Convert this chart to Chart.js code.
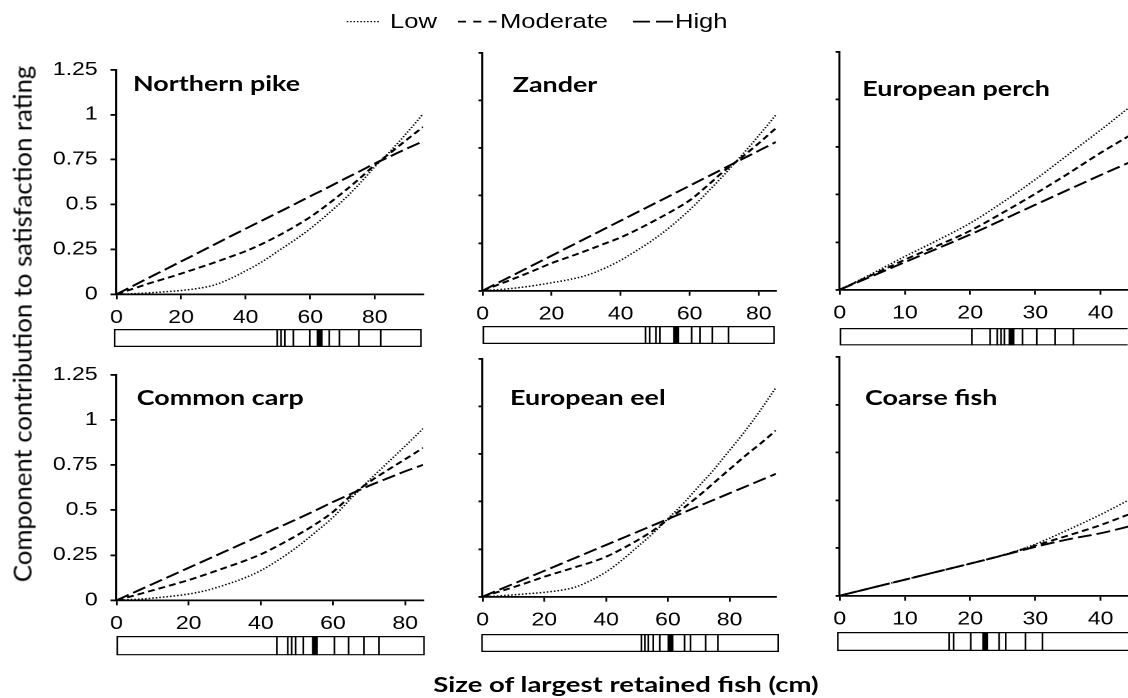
<!DOCTYPE html>
<html>
<head>
<meta charset="utf-8">
<script src="https://cdn.jsdelivr.net/npm/chart.js@4.4.1/dist/chart.umd.min.js"></script>
<style>
  html, body { margin: 0; padding: 0; background: #fff; width: 1128px; height: 698px; overflow: hidden; }
  #fig { position: absolute; left: 0; top: 0; width: 881.25px; height: 698px; transform: scaleX(1.28); transform-origin: 0 0; }
  #fig canvas { position: absolute; }
  .title { position: absolute; font-family: Lato, sans-serif; font-weight: 700; font-size: 21px; line-height: 25.2px; white-space: nowrap; color: #000; }
  .leg { position: absolute; top: 9.4px; font-family: "Liberation Sans", Arial, sans-serif; font-size: 20px; line-height: 24px; white-space: nowrap; color: #000; }
  #legendLines { position: absolute; left: 0; top: 0; overflow: visible; }
  #xtitle { position: absolute; left: 489px; top: 671.5px; transform: translateX(-50%); font-family: Lato, sans-serif; font-weight: 700; font-size: 21.5px; line-height: 25.8px; white-space: nowrap; color: #000; }
  #ytitle { position: absolute; left: 22px; top: 324px; transform: translate(-50%, -50%) rotate(-90deg); font-family: Lato, sans-serif; font-size: 25.7px; line-height: 30.8px; white-space: nowrap; color: #000; }
</style>
</head>
<body>
<div id="fig">
  <svg id="legendLines" width="882" height="40">
    <line x1="270.9" y1="21.6" x2="296.9" y2="21.6" stroke="#000" stroke-width="1.4" stroke-dasharray="1.2 1.45"/>
    <line x1="357.8" y1="21.6" x2="388" y2="21.6" stroke="#000" stroke-width="1.9" stroke-dasharray="6.25 5.7"/>
    <line x1="494.5" y1="21.6" x2="525.8" y2="21.6" stroke="#000" stroke-width="1.9" stroke-dasharray="13.3 4.7"/>
  </svg>
  <div class="leg" style="left:304.7px">Low</div>
  <div class="leg" style="left:390.6px">Moderate</div>
  <div class="leg" style="left:527.3px">High</div>
  <div id="xtitle">Size of largest retained fish (cm)</div>
</div>
<div id="ytitle">Component contribution to satisfaction rating</div>

<script>
// ---- data -------------------------------------------------------------
const yTicks = [0, 0.25, 0.5, 0.75, 1, 1.25];
const panelNames = ['Northern pike', 'Zander', 'European perch', 'Common carp', 'European eel', 'Coarse fish'];

// Northern pike
const pikeSize     = [0, 5, 10, 15, 20, 25, 30, 35, 40, 45, 50, 55, 60, 65, 70, 75, 80, 85, 90, 95];
const pikeLow      = [0, 0.003, 0.008, 0.014, 0.021, 0.032, 0.05, 0.085, 0.13, 0.18, 0.24, 0.30, 0.365, 0.44, 0.52, 0.61, 0.71, 0.80, 0.90, 1.005];
const pikeModerate = [0, 0.03, 0.06, 0.087, 0.115, 0.145, 0.175, 0.207, 0.24, 0.28, 0.325, 0.375, 0.43, 0.495, 0.565, 0.64, 0.72, 0.79, 0.862, 0.932];
const pikeHigh     = [0, 0.046, 0.092, 0.137, 0.183, 0.228, 0.274, 0.32, 0.365, 0.41, 0.455, 0.5, 0.546, 0.59, 0.637, 0.682, 0.728, 0.77, 0.812, 0.852];
const pikeTicks    = [0, 20, 40, 60, 80];
const pikeRug      = [50.4, 51.6, 52.8, 55.4, 60.5, 66.5, 69.6, 75.6, 82.4];
const pikeMedian   = 63.5;

// Zander
const zanderSize     = [0, 5, 10, 15, 20, 25, 30, 35, 40, 45, 50, 55, 60, 65, 70, 75, 80, 85];
const zanderLow      = [0, 0.006, 0.015, 0.027, 0.042, 0.058, 0.08, 0.115, 0.16, 0.215, 0.275, 0.345, 0.425, 0.515, 0.61, 0.71, 0.815, 0.925];
const zanderModerate = [0, 0.035, 0.07, 0.107, 0.145, 0.177, 0.21, 0.245, 0.28, 0.323, 0.37, 0.42, 0.475, 0.55, 0.63, 0.70, 0.775, 0.855];
const zanderHigh     = [0, 0.046, 0.092, 0.138, 0.184, 0.23, 0.276, 0.322, 0.368, 0.414, 0.46, 0.506, 0.552, 0.598, 0.644, 0.69, 0.736, 0.782];
const zanderTicks    = [0, 20, 40, 60, 80];
const zanderRug      = [47.4, 48.6, 50.4, 51.6, 60.8, 63.2, 66.8, 71.5];
const zanderMedian   = 56.3;

// European perch
const perchSize     = [0, 5, 10, 15, 20, 25, 30, 35, 40, 44.25];
const perchLow      = [0, 0.085, 0.175, 0.26, 0.35, 0.46, 0.58, 0.71, 0.84, 0.955];
const perchModerate = [0, 0.078, 0.158, 0.232, 0.31, 0.405, 0.505, 0.61, 0.72, 0.807];
const perchHigh     = [0, 0.072, 0.145, 0.217, 0.29, 0.368, 0.447, 0.525, 0.603, 0.667];
const perchTicks    = [0, 10, 20, 30, 40];
const perchRug      = [20.3, 23.1, 24.2, 24.8, 25.3, 28.1, 30.3, 33.1, 35.9];
const perchMedian   = 26.4;

// Common carp
const carpSize     = [0, 5, 10, 15, 20, 25, 30, 35, 40, 45, 50, 55, 60, 65, 70, 75, 80, 85];
const carpLow      = [0, 0.005, 0.012, 0.022, 0.035, 0.055, 0.085, 0.12, 0.165, 0.225, 0.295, 0.375, 0.46, 0.565, 0.665, 0.76, 0.855, 0.952];
const carpModerate = [0, 0.027, 0.055, 0.083, 0.112, 0.145, 0.18, 0.215, 0.255, 0.305, 0.36, 0.42, 0.49, 0.58, 0.655, 0.72, 0.782, 0.845];
const carpHigh     = [0, 0.045, 0.09, 0.135, 0.18, 0.225, 0.27, 0.315, 0.36, 0.405, 0.45, 0.497, 0.545, 0.59, 0.635, 0.675, 0.715, 0.751];
const carpTicks    = [0, 20, 40, 60, 80];
const carpRug      = [44.2, 47.2, 48.3, 49.4, 51.5, 60.1, 64.0, 68.2, 72.4];
const carpMedian   = 54.7;

// European eel
const eelSize     = [0, 5, 10, 15, 20, 25, 30, 35, 40, 45, 50, 55, 60, 65, 70, 75, 80, 85, 90, 95];
const eelLow      = [0, 0.004, 0.01, 0.016, 0.023, 0.033, 0.05, 0.085, 0.13, 0.19, 0.26, 0.33, 0.41, 0.49, 0.58, 0.67, 0.77, 0.87, 0.98, 1.1];
const eelModerate = [0, 0.025, 0.05, 0.077, 0.105, 0.13, 0.155, 0.18, 0.21, 0.25, 0.295, 0.345, 0.405, 0.465, 0.53, 0.60, 0.67, 0.74, 0.805, 0.874];
const eelHigh     = [0, 0.034, 0.068, 0.102, 0.136, 0.17, 0.204, 0.238, 0.272, 0.306, 0.34, 0.374, 0.408, 0.442, 0.476, 0.51, 0.544, 0.578, 0.612, 0.646];
const eelTicks    = [0, 20, 40, 60, 80];
const eelRug      = [51.1, 52.2, 53.3, 54.9, 57.0, 64.9, 66.8, 71.6, 75.5];
const eelMedian   = 60.4;

// Coarse fish
const coarseSize     = [0, 5, 10, 15, 20, 25, 30, 35, 40, 44.25];
const coarseLow      = [0, 0.042, 0.084, 0.126, 0.168, 0.212, 0.27, 0.345, 0.425, 0.5];
const coarseModerate = [0, 0.042, 0.084, 0.126, 0.168, 0.212, 0.263, 0.315, 0.37, 0.425];
const coarseHigh     = [0, 0.042, 0.084, 0.126, 0.168, 0.211, 0.256, 0.295, 0.327, 0.362];
const coarseTicks    = [0, 10, 20, 30, 40];
const coarseRug      = [17.0, 17.7, 20.3, 24.6, 25.6, 28.6, 31.2];
const coarseMedian   = 22.5;

const panels = [
  { size: pikeSize,   low: pikeLow,   moderate: pikeModerate,   high: pikeHigh,   ticks: pikeTicks,   rug: pikeRug,   median: pikeMedian },
  { size: zanderSize, low: zanderLow, moderate: zanderModerate, high: zanderHigh, ticks: zanderTicks, rug: zanderRug, median: zanderMedian },
  { size: perchSize,  low: perchLow,  moderate: perchModerate,  high: perchHigh,  ticks: perchTicks,  rug: perchRug,  median: perchMedian },
  { size: carpSize,   low: carpLow,   moderate: carpModerate,   high: carpHigh,   ticks: carpTicks,   rug: carpRug,   median: carpMedian },
  { size: eelSize,    low: eelLow,    moderate: eelModerate,    high: eelHigh,    ticks: eelTicks,    rug: eelRug,    median: eelMedian },
  { size: coarseSize, low: coarseLow, moderate: coarseModerate, high: coarseHigh, ticks: coarseTicks, rug: coarseRug, median: coarseMedian }
];

// ---- layout (page pixels: left, right, top, bottom) ---------------------
const SX = 1.28;                 // horizontal stretch applied to #fig
const wx = v => v / SX;          // page x -> #fig x

const layout = [
  { plot: [116, 422.7, 61, 294.3],    rug: [114, 421.7, 329, 347],     title: [133, 91],    yLabels: true },
  { plot: [482.3, 775.7, 53.3, 291],  rug: [482.7, 775, 326, 344],     title: [512.7, 91.7] },
  { plot: [839.3, 1128, 52.3, 290],   rug: [840, 1128, 328.3, 345.7],  title: [862.3, 96],  open: true },
  { plot: [116, 422.7, 365.7, 600],   rug: [116, 424.3, 635.7, 655],   title: [136.7, 405], yLabels: true },
  { plot: [482.7, 776, 359, 596.7],   rug: [480.7, 778.3, 634.3, 652.3], title: [510, 405] },
  { plot: [839.3, 1128, 357.3, 596],  rug: [836.7, 1128, 631.7, 650.7], title: [865, 405], open: true }
];

const lineStyles = {
  low:      { w: 1.5, dash: [1.2, 1.6] },
  moderate: { w: 1.9, dash: [5.5, 3.2] },
  high:     { w: 1.9, dash: [11, 4] }
};

// ---- drawing ------------------------------------------------------------
Chart.defaults.font.family = '"Liberation Sans", Arial, sans-serif';
Chart.defaults.color = '#000';

const fig = document.getElementById('fig');

function addCanvas(left, top, w, h) {
  const c = document.createElement('canvas');
  c.width = w; c.height = h;
  c.style.left = left + 'px'; c.style.top = top + 'px';
  c.style.width = w + 'px'; c.style.height = h + 'px';
  fig.appendChild(c);
  return c;
}

// outline of the rug strip; `open` leaves the right-hand side running off the page
const framePlugin = {
  id: 'frame',
  afterDraw(chart, args, opts) {
    const { ctx, chartArea: a } = chart;
    const lw = opts.width || 1;
    const l = a.left + lw / 2, t = a.top + lw / 2, r = a.right - lw / 2, b = a.bottom - lw / 2;
    ctx.save();
    ctx.strokeStyle = '#000';
    ctx.lineWidth = lw;
    ctx.beginPath();
    if (opts.open) {
      ctx.moveTo(a.right + 4, t); ctx.lineTo(l, t); ctx.lineTo(l, b); ctx.lineTo(a.right + 4, b);
    } else {
      ctx.rect(l, t, r - l, b - t);
    }
    ctx.stroke();
    ctx.restore();
  }
};

const baseOptions = {
  responsive: false,
  animation: false,
  devicePixelRatio: 2,
  events: [],
  plugins: { legend: { display: false }, tooltip: { enabled: false } }
};

function drawPanel(p, lay) {
  const [pl, pr, pt, pb] = lay.plot;
  const L = wx(pl), R = wx(pr);
  const axisW = 62, padTop = 12, axisH = 44;
  const cw = Math.ceil(R - L + axisW + 4);
  const ch = Math.ceil(pb - pt + padTop + axisH);
  const padRight = cw - (R - L) - axisW;
  const xAxisH = ch - padTop - (pb - pt);
  const canvas = addCanvas(L - axisW, pt - padTop, cw, ch);
  const xMax = p.size[p.size.length - 1];

  const series = (vals, st) => ({
    data: p.size.map((x, i) => ({ x, y: vals[i] })),
    borderColor: '#000',
    borderWidth: st.w,
    borderDash: st.dash,
    pointRadius: 0,
    cubicInterpolationMode: 'monotone',
    fill: false
  });

  new Chart(canvas, {
    type: 'line',
    data: { datasets: [series(p.low, lineStyles.low), series(p.moderate, lineStyles.moderate), series(p.high, lineStyles.high)] },
    options: Object.assign({}, baseOptions, {
      layout: { padding: { top: padTop, right: padRight, left: 0, bottom: 0 }, autoPadding: false },
      scales: {
        x: {
          type: 'linear', min: 0, max: xMax,
          afterBuildTicks: a => { a.ticks = p.ticks.map(v => ({ value: v })); },
          afterFit: s => { s.height = xAxisH; },
          border: { color: '#000', width: 1.8 },
          grid: { drawOnChartArea: false, color: '#000', lineWidth: 1.4, tickLength: 5 },
          ticks: { color: '#000', font: { size: 18 }, padding: 8, maxRotation: 0, autoSkip: false, callback: v => String(v) }
        },
        y: {
          type: 'linear', min: 0, max: 1.25,
          afterBuildTicks: a => { a.ticks = yTicks.map(v => ({ value: v })); },
          afterFit: s => { s.width = axisW; },
          border: { color: '#000', width: 1.6 },
          grid: { drawOnChartArea: false, color: '#000', lineWidth: 1.8, tickLength: lay.yLabels ? 4.7 : 3.2 },
          ticks: { display: !!lay.yLabels, color: '#000', font: { size: 18 }, padding: 10, callback: v => String(v) }
        }
      }
    })
  });
}

function drawRug(p, lay) {
  const [bl, br, bt, bb] = lay.rug;
  const L = wx(bl), R = wx(br);
  const cw = Math.ceil(R - L);
  const ch = Math.ceil(bb - bt);
  const canvas = addCanvas(L, bt, cw, ch);
  const xMax = p.size[p.size.length - 1];
  new Chart(canvas, {
    type: 'line',
    data: {
      datasets: [
        {
          data: p.rug.flatMap(v => [{ x: v, y: 0 }, { x: v, y: 1 }, { x: v, y: null }]),
          borderColor: '#000', borderWidth: 1.3, pointRadius: 0, spanGaps: false
        },
        {
          data: [{ x: p.median, y: 0 }, { x: p.median, y: 1 }],
          borderColor: '#000', borderWidth: 4.7, pointRadius: 0
        }
      ]
    },
    options: Object.assign({}, baseOptions, {
      layout: { padding: { top: 0, left: 0, right: cw - (R - L), bottom: ch - (bb - bt) }, autoPadding: false },
      plugins: { legend: { display: false }, tooltip: { enabled: false }, frame: { width: 1.2, open: !!lay.open } },
      scales: {
        x: { type: 'linear', min: 0, max: xMax, display: false },
        y: { type: 'linear', min: 0, max: 1, display: false }
      }
    }),
    plugins: [framePlugin]
  });
}

function addTitle(text, lay) {
  const d = document.createElement('div');
  d.className = 'title';
  d.textContent = text;
  d.style.left = wx(lay.title[0]) + 'px';
  d.style.top = (lay.title[1] - 0.987 * 21) + 'px';
  fig.appendChild(d);
}

panels.forEach((p, i) => {
  drawPanel(p, layout[i]);
  drawRug(p, layout[i]);
  addTitle(panelNames[i], layout[i]);
});
</script>
</body>
</html>
